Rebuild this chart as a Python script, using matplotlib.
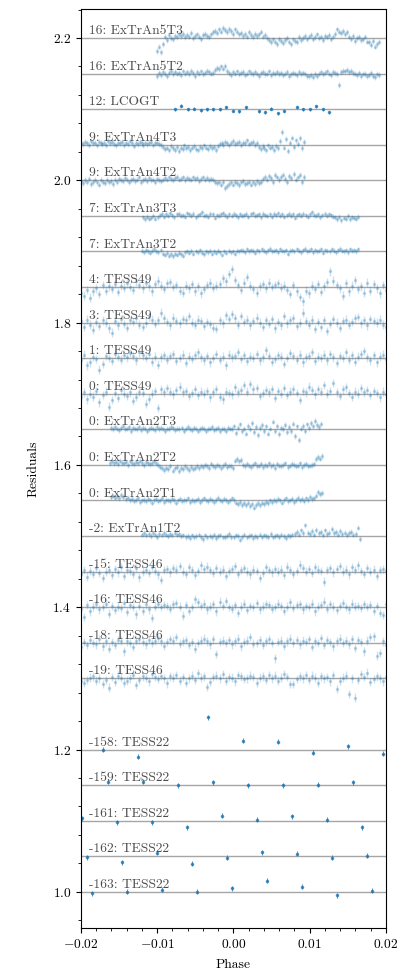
import numpy as np
import matplotlib.pyplot as plt
from matplotlib.ticker import AutoMinorLocator

plt.rcParams['font.family'] = 'serif'
plt.rcParams['font.serif'] = ['cmr10']
plt.rcParams['mathtext.fontset'] = 'cm'
plt.rcParams['axes.formatter.use_mathtext'] = True
plt.rcParams['axes.unicode_minus'] = True

# residuals are in units of 1e-3
ex5t3 = [-18, -12, -20, -8, 2, -3, 4, 0, -2, 3, 1, 5, 3, 6, 1, 4, 2, 7, 0, 3, 5, 2, -1, 4, 6, 3, 1, 5, 8,
         10, 7, 12, 9, 14, 11, 8, 13, 10, 6, 12, 9, 5, 7, 3, 6, 2, 8, 4, 1, 6, 3, 5, 9, 2, 4, 0,
         -3, -6, -2, -5, -8, -1, -4, -7, -3, 0, -5, -9, -2, -4, -6, 1, -3, 0, 3, -2, 2, 4, -1, 1, 5,
         0, 2, -3, 3, 1, 4, -1, 2, 6, 12, 9, 7, 10, 5, 8, 2, -1, 3, -4, 0, 1, -3, -2, 2, -5,
         -6, -10, -4, -12, -8, -5]
ex5t2 = [-3, 1, -2, 2, 0, -4, 1, 3, -1, 2, 0, 1, -2, 3, 0, 2, -1, 4, 1, -3, 2, 0, 3, -1, 1, 4, 2, 0, 1,
         5, 8, 6, 10, 7, 11, 4,
         1, -2, 2, 0, 3, -1, 1, 2, -2, 0, 3, 1, -1, 2, 0, -3, 1, 2, -1, 0, 3, -2, 1, 0, 2, -1, 1, -2,
         0, 2, -3, -1, 1, 0, -2, 2, -1, 1, 0, -3, -4, -2, -5, -1, -3, 0, 2, -1, 1, 3, 0, -2, 2, 1, -1,
         -16, 2, 4, 3, 5, 2, 4, 1, 0, -2, 1, -3, 0, -1, -4, -2, 1, -3, -5, -1, -2]
ex4t3 = [3, 1, 4, 2, 0, 5, 2, 3, -1, 4, 2, 1, 3, 0, 5, 2, 4, 1, -1, 3, 2, 4, 0, 3, 1, 5, 2, -2, 3, 1,
         4, 2, 0, 3, 1, 2, 4, -1, 2, 3, 1, 0,
         -3, -6, -4, -8, -2, -5, -7, -3, -9, -4, -6, -1, -5, -3, -7, -4, -2, -6, -8, -3, -5, -1, -4,
         -6, -2, -5, -3, -7, -2,
         1, 3, 0, 4, 2, -1, 3, 5, 1, 2, 4, 0, 3, 2, 6, 1, 3, 4, 0, 2,
         -3, -6, -2, -5, -8, -1, -4, -3, -7, -2, -5,
         5, 18, -4, 8, -9, 3, 10, -3, 6, 1, 9, -5, 4]
ex4t2 = [-1, -4, 0, -3, 2, -5, -2, 1, -3, -6, 0, -2, -4, 1, -3, -1, -5,
         1, -2, 2, 0, -1, 3, 1, -3, 0, 2, -1, 1, 4, -2, 0, 2, -1, 3, 0, 1, -2, 2, 0, -1, 1,
         3, 1, 4, 2, 0, 3, 5, 1, 2, 4, 0, 3, 2, 1, 4, 2, 3, -1, 2, 4, 1, 3, 0, 2, 1,
         -2, -4, -3, -6, -2, -11, -8, -5, -3, -6, -2, -4, -7, -3, -1, -5, -4, -2, -6, -3, -5, -1, -4, -2,
         2, 5, 1, 6, 3, -2, 7, 4, 0, 5, 8, 2, -3, 6, 3, 9, 1, 4, 7, -2, 5]
ex3t3 = [-2, -5, -1, -4, -3, 0, -4, -2,
         1, 3, -1, 2, 0, 4, 1, -2, 2, 3, 0, 1, -1, 4, 2, 0, 3, -2, 1, 2, 5, 0, 1, -1, 3, 2, -3, 1,
         0, 2, 4, 1, -1, 2, 0, 3, 1, -2, 2, 0, 1, 3, -1, 2, 4, 0, 1, 2, -2, 3, 1, 0, 2, -1, 3, 1,
         4, 0, 2, -1, 1, 3, 0, 2, -3, 1, 2, 0, 3, 1, -1, 2, 5, 1, 0, 2, -2, 1, 3, 0, 2, 1, -1,
         -2, -5, -1, -6, -3, -4, 0, -5, -2, -3, -4, -1]
ex3t2 = [1, -1, 2, 0, -2, 1, 3, 0, -1, 2,
         -3, -5, -2, -6, -4, -7, -3, -5, -2, -4, -6,
         -1, 0, -2, 1, -3, 0, -1, 2, -2, -4, 0, -1, 1, -3, 0, -2, 1, -1, -5, 0, -2, 1, -1, 0, -3, 1,
         0, 2, 1, -1, 3, 0, 2, 1, -2, 2, 0, 3, 1, -1, 2, 4, 0, 1, 2, -1, 3, 1, 0, 2, -3, 1, 2, 0,
         3, 1, -1, 2, 4, 0, 1, 3, -1, 2, 0, 1, 3, -2, 2, 1, 0, 3, 1, -1, 2, 4, 1, 0, 2, -1, 3, 1, 2, 0, 3]
t49_4 = [-8, -12, -4, -15, -6, -2, -10, 3, -5, 1, -3, 4, -7, 2, -1, 5, 0, -4, 8, 3, -2, 6, 1, -6, 4,
         9, 2, -3, 5, 7, 0, 3, -5, -8, 2, -2, 4, -6, 1, -9, -3, 3, 6, -1, 2, 4, 12, 8, 18, 25, 10, 3,
         -4, 6, 14, 2, -3, -8, 1, 4, -2, 6, 0, 3, 5, -1, 2, -4, -10, 3, -6, -14, -20, -5, -9, 2, -3,
         4, -7, 1, 7, 22, 9, 3, -2, -12, 5, -6, 2, 10, -3, 1, -8, 6, -5, 4, -2, -9, 3, -4]
t49_3 = [2, -6, 4, -3, -10, 1, -5, 3, 0, -8, -14, 2, -4, 5, -2, -7, 3, 1, 6, -3, -6, 0, 8, 4, -2, 3,
         14, 6, 1, -4, 7, 2, -1, 5, 3, 9, 0, -3, 4, 2, -5, 1, -2, -7, -9, 3, -1, 10, 5, 12, 6, -3, 9,
         1, 4, -4, 2, 7, 0, -6, 3, -2, 5, -8, 1, -4, 9, -1, 3, 6, -5, 0, 14, 2, -3, 4, -9, 1, -6, 3,
         -12, -2, 5, 0, -7, 2, 4, -3, 1, 6, 8, -1, 3, -4, 5, 2, 0, 4, -3, -6]
t49_1 = [-3, 5, -10, -6, 2, -1, -16, -8, 3, 0, -4, 6, 2, -2, 5, 1, 7, 3, -3, 8, 4, 0, 6, -5, 2, -9,
         1, 4, -2, 3, 6, -4, 0, 5, -7, 2, -1, 4, 8, 1, -3, 3, -6, 0, 6, -2, 2, -10, 5, 1, 3, 9, -1,
         4, -4, 2, 0, 6, -3, 1, 11, 3, -5, -1, 4, 2, -8, 0, 7, 3, -2, 5, -6, 1, 3, 9, -4, 2, 0, 5,
         -3, 6, 1, -7, 3, 0, 8, -2, 4, -5, 2, 6, 10, 1, -3, 4, -6, 2, 5, -1]
t49_0 = [-5, 2, -8, 0, -4, 4, -12, -2, 3, -18, -9, 1, -6, 5, 0, -3, 2, -10, -4, 3, 1, -14, -7, 0, 4,
         -20, 6, 2, 8, 3, -1, 5, 10, 2, 4, -3, 1, 6, -2, 3, 0, 4, -5, 2, 7, -4, -8, 3, 1, -1, 9, 2,
         5, 12, 3, 14, 6, 8, -3, 1, 5, 2, 7, -6, 4, 0, 8, -2, 3, 6, 1, -9, 4, 2, 10, 5, -1, 7, 3,
         12, 0, 4, 15, 2, -3, 6, 9, 1, -4, 3, 0, 8, 2, 5, -2, 4, 1, -5, 3, 0]
ex2t3 = [2, 0, 3, 1, -1, 2, 4, 0, 1, 3, -2, 2, 1, 0, 3, -1, 2, 1, -3, 0, 2, 1, -1, 3, 0, 2, 1, -2,
         1, 0, 3, 2, -1, 1, 0, 2, -2, 1, 3, 0, -1, 2, 1, -3, 0, 2, 1, -2, 0, 1, 3, -1, 0, 2, -2, 1,
         0, -3, 2, 1, 0,
         4, -5, 2, 7, -3, 1, -6, 5, 0, 9, -4, 3, -8, 2, 6, -2, 4, -6, 1, 11, -3, 5, -7, 2, 0, 6,
         -4, 3, -2, 8, -9, 4, -15, 1, 5, -3, 7, 2, 9, 4, 12, 6, 3, 8]
ex2t2 = [3, 5, 2, 4, 1, 6, 3, 2, 4, 0, 5, 3, 1, 4, 2, 6, 3, 0, 4, 2, 1, 3, 5, 2, 0,
         -3, -5, -7, -4, -6, -2, -8, -5, -3, -9, -4, -6, -2, -5, -7, -3, -6, -4, -2, -5,
         -1, -3, 0, -2, -4, 1, -2, -3, 0, -1, -5, -2, 1, -3, -1, -2, -4,
         6, 8, 5, 7,
         0, -2, 1, -1, -3, 0, 2, -2, -1, 1, -3, 0, -1, 2, -2, 0, -4, 1, -1, -2, 0, 2, -3, -1, 1, 0,
         -2, -1, 2, -3, 0, 1, -2, -1, 0, 1,
         8, 11, 9, 13]
ex2t1 = [5, 7, 4, 6, 3, 8, 5, 2, 4,
         0, 2, -1, 1, 3, -2, 0, 1, -1, 2, 0, -3, 1, 2, -1, 0, 3, -2, 1, 0, -1, 2, 1, -3, 0, 2, -1, 1,
         0, 3, -2, 1, -1, 0, 2, -2, 1, 3, 0, -1, 2, 0, -2, 1, 4, 0, -1, 2, 1, -2, 0, 3, 1,
         -3, -5, -2, -6, -4, -7, -3, -8, -5, -10, -6, -4, -7, -3, -5, -2, -4,
         0, -2, 1, -1, 2, 0, -3, 1, 3, -1, 0, 2, -2, 1, 4, 0, 2, -1, 3, 1, 5, 2, 3,
         7, 12, 9, 11]
ex1t2 = [2, 4, 1, 3, 0, 5, 2, -1, 3, 1, 4, 2, 0, 3, 1, 5, 2, 3, 0, 1,
         -1, 0, -3, 1, -2, 0, 2, -1, -4, 1, -2, 0, -1, 2, -3, 0, 1, -2, -1, 0, 3, -1, -2, 1, 0, -5,
         -1, 2, -2, 0, 1, -3, 0, -1, 2, -2, 1, 0, -1, 3, -2, 0, 1, -1, 2, 0, -3, 1, 0, 2,
         3, 6, 2, 8, 4, 15, 5, 3, 7, 2, 9, 4, 6, 1, 8, 3, 5, 10, 4, 6, 2, 7, 3, 5, 1, 4, 6, 2, 3, 12, -4]
t46_15 = [-4, 2, -7, 1, -3, 5, -2, -9, 0, 3, -5, 4, -1, 6, -6, 2, 1, -3, 5, -8, 0, 3, -2, 7, 1, -4,
          -12, 2, 4, -1, 5, 3, 8, 0, -3, 6, 2, -5, 1, 9, 4, 7, 2, -2, 5, 0, 3, -6, 1, 4, 8, -3, 2, 5,
          0, -4, 3, 1, -9, -2, 6, 2, -1, 4, 0, 3, -5, 7, 2, -3, 1, 10, 5, 0, 4, -2, 6, 3, 1, -14, 2,
          5, -1, 4, 8, 0, 3, -4, 6, 2, 9, 1, -3, 5, 0, 3, -6, 2, 4, 1]
t46_16 = [-2, -14, 3, -6, 1, 4, -3, 0, 5, -9, 2, -4, 1, -1, 6, -7, 3, 0, -10, 2, -5, 4, -3, -15, 1,
          5, 0, 3, 2, -2, 4, 6, 1, -12, 3, -5, 0, 11, 7, 2, 5, -3, 1, 4, -6, 8, 2, 9, 0, -2, 3, -8, 1,
          5, -4, 2, 0, 6, -3, 1, 4, 3, -2, 0, 5, 2, -5, 1, 7, -1, 3, 4, -3, 2, 0, 5, -6, 1, 3, 8, -2,
          4, 1, -4, 2, 6, 0, -3, 5, 1, 2, -1, 4, 0, 3, -5, 2, -8, -11, 4]
t46_18 = [-6, 1, -3, 4, 0, -2, 5, -5, 2, -8, 1, -3, 4, 3, -12, 2, 0, -6, 3, 5, 1, -2, 4, 0, 3, 7, 2,
          -4, 1, 5, 3, 8, -1, 2, 4, -3, 1, -8, 0, 3, 6, 2, -2, 5, -16, 1, 3, 0, 4, -2, 2, 6, -5, 1,
          3, 8, -1, 0, 4, -3, 2, 5, 0, -22, 1, 3, -4, 2, 6, 0, 4, -2, 3, 1, 5, -6, 2, 0, 7, -3, 4, 1,
          -5, 2, 6, 0, 3, -2, 5, -7, 4, 1, -12, 3, 8, 9, -18, -14, 2, -3]
t46_19 = [-4, -6, -2, 1, 3, -3, 0, -8, -2, -13, 2, -5, 4, 1, -6, -3, 0, 5, -9, -2, 3, 1, -4, 6, 2,
          -1, 4, 0, -7, 3, 1, 5, -3, 2, -6, 0, 4, -2, 7, 1, 3, -12, -5, 2, 4, 0, 6, -3, 2, 1, -4, 5,
          3, -1, 0, 4, 2, -6, 1, 3, -2, 5, 0, 4, -3, 1, 6, 2, -8, -8, -1, 3, 0, 5, -2, 4, 1, -6, 3,
          0, 2, -4, 5, -15, -3, 1, 4, -22, 0, -27, -2, 6, 2, 8, -5, -1, 3, 0, -4, 2]

dense_labels = ['16: ExTrAn5T3', '16: ExTrAn5T2', '9: ExTrAn4T3', '9: ExTrAn4T2',
                '7: ExTrAn3T3', '7: ExTrAn3T2', '4: TESS49', '3: TESS49', '1: TESS49',
                '0: TESS49', '0: ExTrAn2T3', '0: ExTrAn2T2', '0: ExTrAn2T1', '-2: ExTrAn1T2',
                '-15: TESS46', '-16: TESS46', '-18: TESS46', '-19: TESS46']
dense_offsets = [2.20, 2.15, 2.05, 2.00, 1.95, 1.90, 1.85, 1.80, 1.75, 1.70,
                 1.65, 1.60, 1.55, 1.50, 1.45, 1.40, 1.35, 1.30]
dense_start = [-0.0100, -0.0100, -0.0200, -0.0200, -0.0119, -0.0120, -0.0200, -0.0200, -0.0200,
               -0.0200, -0.0161, -0.0162, -0.0160, -0.0120, -0.0200, -0.0200, -0.0200, -0.0200]
dense_end = [0.0191, 0.0191, 0.0092, 0.0092, 0.0164, 0.0164, 0.0200, 0.0200, 0.0200,
             0.0200, 0.0115, 0.0116, 0.0116, 0.0166, 0.0200, 0.0200, 0.0200, 0.0200]
dense_err = [4, 4, 4, 4, 3.5, 3.5, 6, 6, 6, 6, 4, 4, 4, 4, 6, 6, 6, 6]
dense_res = [ex5t3, ex5t2, ex4t3, ex4t2, ex3t3, ex3t2, t49_4, t49_3, t49_1, t49_0,
             ex2t3, ex2t2, ex2t1, ex1t2, t46_15, t46_16, t46_18, t46_19]

# sparse light curves
lco_x = [-0.00763, -0.00684, -0.00597, -0.00513, -0.00430, -0.00347, -0.00264, -0.00181,
         -0.00094, -0.00011, 0.00072, 0.00160, 0.00330, 0.00413, 0.00496, 0.00580, 0.00663,
         0.00833, 0.00916, 0.00999, 0.01087, 0.01170, 0.01253]
lco_r = [0, 4.7, 0, 0.5, -1.4, 0, 0, 0, 2.8, -2.3, -2.8, 2.8, -2.8, -4.7, 0.5, -6.1, -2.3,
         2.8, 0, -0.5, 4.2, 0, -4.7]

t22_labels = ['-158: TESS22', '-159: TESS22', '-161: TESS22', '-162: TESS22', '-163: TESS22']
t22_offsets = [1.20, 1.15, 1.10, 1.05, 1.00]
t22_x = [[-0.01711, -0.01248, -0.00334, 0.00125, 0.00584, 0.01043, 0.01502, 0.01961],
         [-0.01646, -0.01187, -0.00728, -0.00269, 0.00186, 0.00645, 0.01104, 0.01563],
         [-0.01983, -0.01523, -0.01064, -0.00605, -0.00146, 0.00313, 0.00772, 0.01231, 0.01690],
         [-0.01921, -0.01462, -0.01003, -0.00544, -0.00085, 0.00374, 0.00833, 0.01292, 0.01751],
         [-0.01860, -0.01401, -0.00942, -0.00483, -0.00024, 0.00435, 0.00894, 0.01353, 0.01812]]
t22_r = [[0, -10.3, 45.4, 12.6, 10.8, -4.2, 4.7, -5.6],
         [4.7, 4.7, -0.5, 4.2, -0.5, -0.5, 0.5, 4.2],
         [3.3, -2.3, -2.3, -8.9, 7.0, 1.4, 6.1, 1.4, -9.4],
         [-1.4, -8.4, 4.7, -10.3, -1.9, 5.6, 3.3, -2.3, 0.5],
         [-2.3, 0, 2.8, 0, 5.1, 15.4, 7.5, -5.1, 1.9]]

fig = plt.figure(figsize=(4.07, 9.77), dpi=100)
ax = fig.add_axes([0.199, 0.050, 0.749, 0.941])

for lab, off, x0, x1, err, res in zip(dense_labels, dense_offsets, dense_start, dense_end,
                                      dense_err, dense_res):
    ph = np.linspace(x0, x1, len(res))
    ax.errorbar(ph, off + np.array(res) * 1e-3, yerr=err * 1e-3, fmt='.', color='C0',
                ms=3, elinewidth=1.0, capsize=0, alpha=0.22, zorder=2)
    ax.axhline(off, color='0.65', lw=1, zorder=1)
    ax.text(-0.019, off + 0.0055, lab, fontsize=9.7, color='0.3', zorder=3)

ax.errorbar(lco_x, 2.10 + np.array(lco_r) * 1e-3, yerr=2.2e-3, fmt='.', color='C0',
            ms=3, elinewidth=0.8, capsize=0, alpha=0.75, zorder=2)
ax.axhline(2.10, color='0.65', lw=1, zorder=1)
ax.text(-0.019, 2.1055, '12: LCOGT', fontsize=9.7, color='0.3', zorder=3)

for lab, off, xs, rs in zip(t22_labels, t22_offsets, t22_x, t22_r):
    ax.errorbar(xs, off + np.array(rs) * 1e-3, yerr=3.5e-3, fmt='.', color='C0',
                ms=3, elinewidth=0.8, capsize=0, alpha=0.75, zorder=2)
    ax.axhline(off, color='0.65', lw=1, zorder=1)
    ax.text(-0.019, off + 0.0055, lab, fontsize=9.7, color='0.3', zorder=3)

ax.set_xlim(-0.02, 0.02)
ax.set_ylim(0.949, 2.241)
ax.set_xticks([-0.02, -0.01, 0.0, 0.01, 0.02])
ax.set_yticks([1.0, 1.2, 1.4, 1.6, 1.8, 2.0, 2.2])
ax.xaxis.set_minor_locator(AutoMinorLocator(5))
ax.yaxis.set_minor_locator(AutoMinorLocator(5))
ax.tick_params(labelsize=9.7)
ax.set_xlabel('Phase', fontsize=9.7, labelpad=6)
ax.set_ylabel('Residuals', fontsize=9.7, labelpad=9)

fig.savefig('out.png', dpi=100)
